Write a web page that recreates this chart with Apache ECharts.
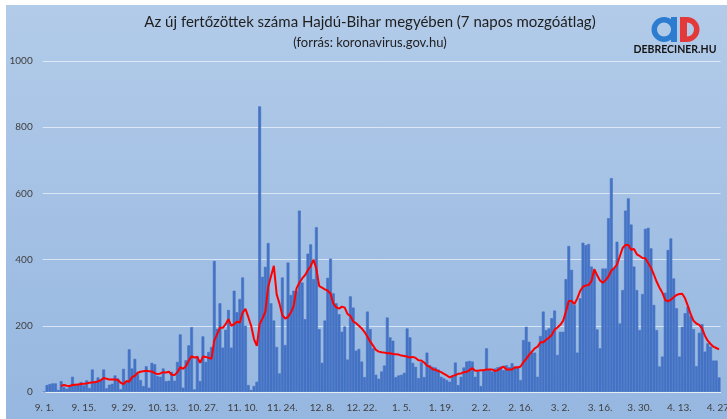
<!DOCTYPE html>
<html><head><meta charset="utf-8">
<script src="https://cdn.jsdelivr.net/npm/echarts@6/dist/echarts.min.js"></script>
<style>html,body{margin:0;padding:0;background:#fff}#c{width:727px;height:419px}</style>
</head><body><div id="c"></div>
<script>
const startDate = [2020, 8, 1];
const dayCount = 239;
const labelStep = 14;
const yTicks = [0, 200, 400, 600, 800, 1000];
const titleText = 'Az új fertőzöttek száma Hajdú-Bihar megyében (7 napos mozgóátlag)';
const subtitleText = '(forrás: koronavirus.gov.hu)';
const logoText = 'DEBRECINER.HU';

const dailyCases = [
  0, 21, 24, 26, 26, 6, 33, 15, 10, 20,
  46, 20, 22, 30, 20, 35, 12, 68, 32, 44,
  36, 68, 11, 22, 25, 50, 41, 8, 70, 31,
  129, 71, 100, 54, 36, 18, 78, 13, 88, 84,
  48, 46, 71, 33, 34, 61, 34, 91, 174, 13,
  96, 141, 196, 8, 108, 33, 168, 91, 121, 136,
  396, 191, 268, 134, 188, 248, 134, 306, 241, 281,
  346, 200, 21, 6, 18, 31, 863, 348, 378, 450,
  268, 216, 136, 56, 346, 142, 391, 293, 306, 305,
  548, 331, 220, 418, 446, 341, 498, 190, 88, 216,
  345, 403, 298, 268, 235, 182, 198, 98, 289, 255,
  125, 130, 92, 45, 243, 190, 132, 52, 40, 62,
  80, 225, 165, 155, 45, 50, 52, 58, 192, 165,
  88, 76, 42, 90, 45, 119, 81, 76, 74, 68,
  46, 41, 36, 31, 50, 89, 21, 46, 74, 92,
  94, 92, 46, 61, 18, 66, 132, 68, 62, 71,
  75, 77, 66, 81, 75, 87, 75, 77, 36, 157,
  197, 152, 119, 119, 46, 169, 243, 187, 192, 223,
  246, 112, 182, 182, 341, 441, 369, 263, 119, 283,
  451, 444, 447, 379, 369, 189, 132, 373, 373, 525,
  646, 373, 454, 207, 308, 548, 585, 506, 379, 308,
  187, 296, 493, 496, 434, 263, 187, 77, 107, 300,
  429, 464, 343, 253, 107, 197, 238, 258, 230, 190,
  78, 179, 205, 122, 147, 137, 95, 95, 44
];

const movingAvg = [
  null, null, null, null, null, null, 18, 21, 19, 18,
  21, 22, 23, 24, 25, 26, 28, 29, 30, 32,
  36, 42, 40, 38, 38, 38, 36, 28, 24, 33,
  31, 45, 49, 58, 61, 63, 64, 63, 62, 57,
  54, 56, 60, 59, 61, 52, 51, 60, 75, 70,
  78, 95, 108, 104, 106, 88, 107, 106, 103, 100,
  155, 175, 194, 194, 205, 220, 200, 205, 212, 210,
  240, 251, 226, 200, 160, 139, 205, 222, 242, 317,
  350, 381, 295, 267, 232, 222, 227, 240, 260, 313,
  330, 343, 353, 368, 380, 400, 372, 320, 315, 310,
  306, 297, 267, 256, 252, 258, 255, 235, 230, 213,
  208, 200, 192, 181, 167, 152, 140, 127, 122, 120,
  119, 117, 117, 115, 114, 113, 110, 109, 107, 104,
  106, 103, 96, 95, 89, 80, 76, 69, 67, 63,
  60, 55, 50, 44, 48, 51, 55, 56, 60, 61,
  66, 72, 64, 64, 66, 66, 68, 68, 68, 63,
  66, 72, 77, 68, 68, 68, 75, 74, 77, 90,
  100, 112, 122, 132, 137, 150, 150, 158, 164, 172,
  188, 195, 203, 215, 243, 275, 275, 266, 283, 305,
  318, 322, 323, 335, 371, 353, 337, 330, 338, 349,
  367, 374, 385, 410, 435, 444, 444, 430, 432, 416,
  411, 405, 404, 390, 375, 355, 333, 315, 300, 278,
  274, 279, 286, 293, 296, 297, 283, 260, 235, 215,
  207, 203, 192, 170, 155, 145, 137, 133, 129
];

const categories = [];
for (let i = 0; i < dayCount; i++) {
  const d = new Date(startDate[0], startDate[1], startDate[2] + i);
  categories.push((d.getMonth() + 1) + '. ' + d.getDate() + '.');
}

const FONT = 'Lato, "Open Sans", sans-serif';
const BAR = '#4472c4';
const chart = echarts.init(document.getElementById('c'), null, {renderer: 'canvas'});

chart.setOption({
  animation: false,
  backgroundColor: '#ffffff',
  grid: {left: 42.7, right: 6.5, top: 61, bottom: 27, containLabel: false, outerBoundsMode: 'none'},
  graphic: [
    {type: 'rect', z: -100, silent: true,
     shape: {x: 6, y: 5, width: 721, height: 414},
     style: {fill: new echarts.graphic.LinearGradient(0, 0, 0, 1, [
       {offset: 0, color: '#b2cbe9'}, {offset: 1, color: '#96b7e0'}])}},
    {type: 'text', x: 370, y: 22, z: 10,
     style: {text: titleText, fill: '#1f1f1f', font: '15px ' + FONT, textAlign: 'center', textVerticalAlign: 'middle'}},
    {type: 'text', x: 370, y: 43, z: 10,
     style: {text: subtitleText, fill: '#1f1f1f', font: '13px ' + FONT, textAlign: 'center', textVerticalAlign: 'middle'}},
    {type: 'sector', z: 10, shape: {cx: 664, cy: 29.5, r: 12.5, r0: 7, startAngle: 0, endAngle: Math.PI * 2},
     style: {fill: '#2c7cd0'}},
    {type: 'rect', z: 10, shape: {x: 671, y: 17, width: 6, height: 25}, style: {fill: '#2c7cd0'}},
    {type: 'rect', z: 10, shape: {x: 680, y: 17, width: 7, height: 25}, style: {fill: '#e23a3a'}},
    {type: 'sector', z: 10, shape: {cx: 687, cy: 29.5, r: 12.5, r0: 7, startAngle: -Math.PI / 2, endAngle: Math.PI / 2},
     style: {fill: '#e23a3a'}},
    {type: 'text', x: 675, y: 50, z: 10,
     style: {text: logoText, fill: '#141414', font: 'bold 10.5px ' + FONT, textAlign: 'center', textVerticalAlign: 'middle'}}
  ],
  xAxis: {
    type: 'category',
    data: categories,
    boundaryGap: true,
    axisLine: {lineStyle: {color: 'rgba(255,255,255,0.8)', width: 1}},
    axisTick: {interval: labelStep - 1, alignWithLabel: true, length: 4, lineStyle: {color: 'rgba(255,255,255,0.8)'}},
    axisLabel: {interval: labelStep - 1, fontSize: 10, color: '#404040', margin: 11, fontFamily: FONT},
    splitLine: {show: false}
  },
  yAxis: {
    type: 'value',
    min: yTicks[0], max: yTicks[yTicks.length - 1], interval: yTicks[1] - yTicks[0],
    axisLine: {show: false}, axisTick: {show: false},
    axisLabel: {fontSize: 10, color: '#404040', margin: 10, fontFamily: FONT, formatter: function (v) { return String(v); }},
    splitLine: {lineStyle: {color: 'rgba(255,255,255,0.6)', width: 1}}
  },
  series: [
    {type: 'bar', data: dailyCases, barCategoryGap: '0%', z: 2,
     itemStyle: {color: BAR, borderColor: BAR, borderWidth: 0.6}},
    {type: 'line', data: movingAvg, showSymbol: false, connectNulls: false, z: 3,
     lineStyle: {color: '#ff0000', width: 2}, itemStyle: {color: '#ff0000'}}
  ]
});
</script></body></html>
